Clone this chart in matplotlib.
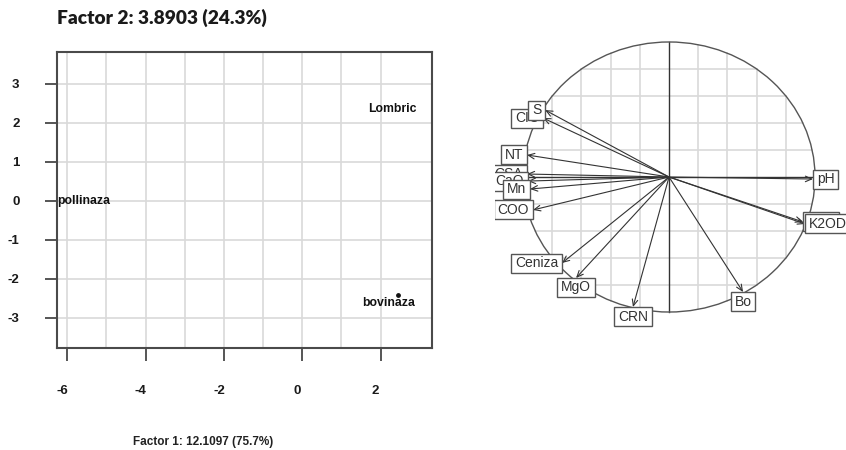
import numpy as np
import matplotlib
matplotlib.use("Agg")
import matplotlib.pyplot as plt
from matplotlib.patches import Circle
from matplotlib.path import Path
from matplotlib.transforms import offset_copy, ScaledTranslation

# ---------------- data: individuals (left panel) ----------------
samples = ["pollinaza", "Lombric", "bovinaza"]
f1_scores = [-5.59, 2.31, 2.44]
f2_scores = [0.0, 2.36, -2.41]
x_ticks = [-6, -4, -2, 0, 2]
y_ticks = [-3, -2, -1, 0, 1, 2, 3]
title_text = "Factor 2: 3.8903 (24.3%)"
xlabel_text = "Factor 1: 12.1097 (75.7%)"

# ---------------- data: variables (correlation circle) ----------------
variables = ["CIC", "S", "NT", "CSA", "CaO", "Mn", "COO", "Ceniza", "MgO",
             "CRN", "Bo", "K2O", "K2OD", "pH"]
corr_f1 = [-0.863, -0.849, -0.973, -0.973, -0.966, -0.952, -0.932, -0.733,
           -0.637, -0.247, 0.507, 0.918, 0.932, 0.986]
corr_f2 = [0.437, 0.496, 0.163, 0.022, -0.030, -0.089, -0.244, -0.637,
           -0.748, -0.963, -0.852, -0.333, -0.348, -0.015]

plt.rcParams["font.family"] = ["Liberation Sans", "DejaVu Sans"]
plt.rcParams["axes.unicode_minus"] = False

W, H = 846, 450
fig = plt.figure(figsize=(W / 100, H / 100), dpi=100)
fig.patch.set_facecolor("white")

# ================= left panel =================
ax1 = fig.add_axes([57 / W, 102 / H, 375 / W, 296 / H])
ax1.set_xlim(-6.26, 3.31)
ax1.set_ylim(-3.77, 3.82)
gridc = "#d9d9d9"
for v in np.arange(-6, 3):
    ax1.axvline(v, color=gridc, lw=1.2, zorder=0)
for h in y_ticks:
    ax1.axhline(h, color=gridc, lw=1.2, zorder=0)
for s in ax1.spines.values():
    s.set_color("#4a4a4a")
    s.set_linewidth(1.5)
ax1.set_xticks(x_ticks)
ax1.set_yticks(y_ticks)
ax1.tick_params(direction="out", length=9, width=1.4, color="#555555",
                pad=18, labelsize=9.5, labelcolor="#1a1a1a")
shift = ScaledTranslation(-5 / 100, 0, fig.dpi_scale_trans)
for lbl in ax1.get_xticklabels():
    lbl.set_fontweight("bold")
    lbl.set_transform(lbl.get_transform() + shift)
for lbl in ax1.get_yticklabels():
    lbl.set_fontweight("bold")

# only the bovinaza marker is visible in the original (others hidden by text)
marker_visible = [False, False, True]
label_offsets = {"bovinaza": (-6.5, -6.0)}
for name, x, y, mv in zip(samples, f1_scores, f2_scores, marker_visible):
    if mv:
        ax1.scatter([x], [y], s=6, color="#111111", zorder=2)
    dx, dy = label_offsets.get(name, (0, 0))
    tr = offset_copy(ax1.transData, fig=fig, x=dx, y=dy, units="points")
    ax1.text(x, y, name, transform=tr, ha="center", va="center",
             fontsize=8.8, fontweight="bold", color="#111111", zorder=3)

fig.text(57 / W, 1 - 18 / H, title_text, ha="left", va="center",
         fontsize=13.8, fontweight="heavy", family=["Lato", "DejaVu Sans"],
         color="#1a1a1a")
fig.text(203 / W, 1 - 442 / H, xlabel_text, ha="center", va="center",
         fontsize=8.5, fontweight="bold", color="#222222")

# ================= right panel: correlation circle =================
ax2 = fig.add_axes([495 / W, 0, 351 / W, 1])
ax2.set_xlim(-1.192, 1.212)
ax2.set_ylim(-2.022, 1.311)
ax2.axis("off")

for g in np.arange(-0.8, 0.81, 0.2):
    if abs(g) < 1e-9:
        continue
    half = np.sqrt(1 - g ** 2)
    ax2.plot([g, g], [-half, half], color=gridc, lw=1.2, zorder=0)
    ax2.plot([-half, half], [g, g], color=gridc, lw=1.2, zorder=0)
ax2.plot([-1, 1], [0, 0], color="#333333", lw=1.0, zorder=1)
ax2.plot([0, 0], [-1, 1], color="#333333", lw=1.0, zorder=1)
ax2.add_patch(Circle((0, 0), 1, fill=False, ec="#555555", lw=1.0, zorder=1))

for x, y in zip(corr_f1, corr_f2):
    ax2.annotate("", xy=(x, y), xytext=(0, 0), annotation_clip=False,
                 arrowprops=dict(arrowstyle="->,head_length=0.45,head_width=0.2",
                                 color="#333333", lw=0.8,
                                 shrinkA=0, shrinkB=0), zorder=2)


def ade_box(x0, y0, width, height, mutation_size):
    px = 0.28 * mutation_size
    py = 0.18 * mutation_size
    verts = [(x0 - px, y0 - py), (x0 + width + px, y0 - py),
             (x0 + width + px, y0 + height + py), (x0 - px, y0 + height + py),
             (x0 - px, y0 - py)]
    codes = [Path.MOVETO, Path.LINETO, Path.LINETO, Path.LINETO, Path.CLOSEPOLY]
    return Path(verts, codes)


lab_fs = 10
padx_pt = 0.28 * lab_fs
pady_pt = 0.18 * lab_fs
for name, x, y in zip(variables, corr_f1, corr_f2):
    if x > y and x > -y:
        ha, va, dx, dy = "left", "center", padx_pt, 0
    elif x > y and x <= -y:
        ha, va, dx, dy = "center", "top", 0, -pady_pt
    elif x <= y and x <= -y:
        ha, va, dx, dy = "right", "center", -padx_pt, 0
    else:
        ha, va, dx, dy = "center", "bottom", 0, pady_pt
    tr = offset_copy(ax2.transData, fig=fig, x=dx, y=dy, units="points")
    t = ax2.text(x, y, name, transform=tr, ha=ha, va=va, fontsize=lab_fs,
                 color="#333333", zorder=4,
                 bbox=dict(boxstyle=ade_box, fc="white", ec="#555555", lw=1.0))
    t.set_clip_on(True)
    t.set_clip_box(ax2.bbox)

fig.savefig("out.png", dpi=100)
